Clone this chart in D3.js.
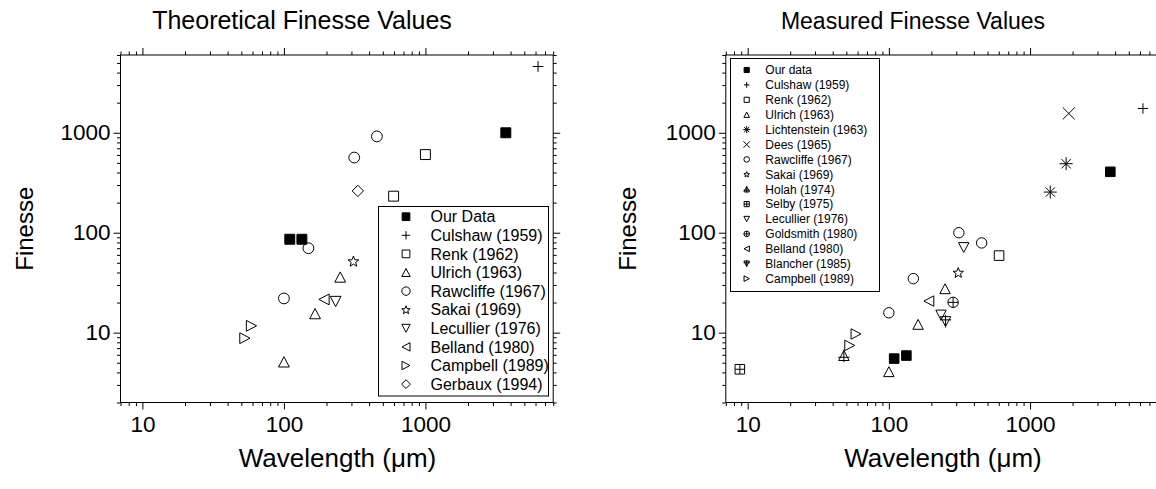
<!DOCTYPE html>
<html>
<head>
<meta charset="utf-8">
<script src="https://cdn.jsdelivr.net/npm/d3@7"></script>
<style>
  body { margin: 0; background: #fff; }
  svg { display: block; }
  text { font-family: Arial, "Liberation Sans", Helvetica, sans-serif; fill: #000; }
</style>
</head>
<body>
<svg id="chart" width="1156" height="489"></svg>
<script>
// ---- Theoretical finesse values: [wavelength (µm), finesse] ----
const theoOurData   = [[110, 86], [134, 86], [3700, 1000]];
const theoCulshaw   = [[6250, 4600]];
const theoRenk      = [[1000, 605], [596, 232]];
const theoUlrich    = [[250, 36], [166, 15.5], [100, 5.1]];
const theoRawcliffe = [[454, 920], [314, 565], [149, 70], [100, 22]];
const theoSakai     = [[310, 52]];
const theoLecullier = [[232, 20.5]];
const theoBelland   = [[192, 21.5]];
const theoCampbell  = [[59, 11.7], [53, 8.8]];
const theoGerbaux   = [[333, 262]];

// ---- Measured finesse values: [wavelength (µm), finesse] ----
const measOurData      = [[109, 5.5], [133, 5.9], [3700, 407]];
const measCulshaw      = [[6300, 1750]];
const measRenk         = [[603, 59]];
const measUlrich       = [[250, 27.5], [161, 12.1], [100, 4.07]];
const measLichtenstein = [[1800, 490], [1390, 255]];
const measDees         = [[1880, 1560]];
const measRawcliffe    = [[313, 100], [454, 79], [149, 34.7], [100, 15.8]];
const measSakai        = [[310, 40]];
const measHolah        = [[48, 5.9]];
const measSelby        = [[8.8, 4.3]];
const measLecullier    = [[339, 71], [234, 15]];
const measGoldsmith    = [[285, 20.1]];
const measBelland      = [[192, 20.7]];
const measBlancher     = [[252, 12.9]];
const measCampbell     = [[58.5, 9.7], [52.8, 7.45]];

// ---- Axis ticks ----
const xDomain = [7, 8000];
const yDomain = [2, 6000];
const majorTicks = [10, 100, 1000];
const xMinorTicks = [7, 8, 9, 20, 30, 40, 50, 60, 70, 80, 90,
  200, 300, 400, 500, 600, 700, 800, 900, 2000, 3000, 4000, 5000, 6000, 7000, 8000];
const yMinorTicks = [2, 3, 4, 5, 6, 7, 8, 9, 20, 30, 40, 50, 60, 70, 80, 90,
  200, 300, 400, 500, 600, 700, 800, 900, 2000, 3000, 4000, 5000, 6000];

// ---- Series (legend order) ----
const theoSeries = [
  { name: "Our Data", sym: "squareFilled", data: theoOurData },
  { name: "Culshaw (1959)", sym: "plus", data: theoCulshaw },
  { name: "Renk (1962)", sym: "square", data: theoRenk },
  { name: "Ulrich (1963)", sym: "triUp", data: theoUlrich },
  { name: "Rawcliffe (1967)", sym: "circle", data: theoRawcliffe },
  { name: "Sakai (1969)", sym: "star", data: theoSakai },
  { name: "Lecullier (1976)", sym: "triDown", data: theoLecullier },
  { name: "Belland (1980)", sym: "triLeft", data: theoBelland },
  { name: "Campbell (1989)", sym: "triRight", data: theoCampbell },
  { name: "Gerbaux (1994)", sym: "diamond", data: theoGerbaux }
];
const measSeries = [
  { name: "Our data", sym: "squareFilled", data: measOurData },
  { name: "Culshaw (1959)", sym: "plus", data: measCulshaw },
  { name: "Renk (1962)", sym: "square", data: measRenk },
  { name: "Ulrich (1963)", sym: "triUp", data: measUlrich },
  { name: "Lichtenstein (1963)", sym: "asterisk", data: measLichtenstein },
  { name: "Dees (1965)", sym: "cross", data: measDees },
  { name: "Rawcliffe (1967)", sym: "circle", data: measRawcliffe },
  { name: "Sakai (1969)", sym: "star", data: measSakai },
  { name: "Holah (1974)", sym: "triUpPlus", data: measHolah },
  { name: "Selby (1975)", sym: "squarePlus", data: measSelby },
  { name: "Lecullier (1976)", sym: "triDown", data: measLecullier },
  { name: "Goldsmith (1980)", sym: "circlePlus", data: measGoldsmith },
  { name: "Belland (1980)", sym: "triLeft", data: measBelland },
  { name: "Blancher (1985)", sym: "triDownPlus", data: measBlancher },
  { name: "Campbell (1989)", sym: "triRight", data: measCampbell }
];

// ---- Marker shapes, centred on (0,0), half-size r ----
function circlePath(r) {
  return `M${r},0A${r},${r} 0 1,1 ${-r},0A${r},${r} 0 1,1 ${r},0Z`;
}
function starPath(r) {
  const pts = [];
  for (let i = 0; i < 10; i++) {
    const a = -Math.PI / 2 + i * Math.PI / 5;
    const rr = i % 2 === 0 ? r : r * 0.42;
    pts.push([rr * Math.cos(a), rr * Math.sin(a) + r * 0.1]);
  }
  return "M" + pts.map(p => p[0].toFixed(2) + "," + p[1].toFixed(2)).join("L") + "Z";
}
function symbolPath(type, r) {
  const h = r * 0.95;
  switch (type) {
    case "squareFilled":
    case "square": { const s = r * 0.92; return `M${-s},${-s}H${s}V${s}H${-s}Z`; }
    case "squarePlus": { const s = r * 0.92; return `M${-s},${-s}H${s}V${s}H${-s}ZM0,${-s}V${s}M${-s},0H${s}`; }
    case "plus": return `M${-r},0H${r}M0,${-r}V${r}`;
    case "cross": { const c = r * 1.15; return `M${-c},${-c}L${c},${c}M${-c},${c}L${c},${-c}`; }
    case "asterisk": {
      const a = r * 1.25, d = a * 0.72;
      return `M${-a},0H${a}M0,${-a}V${a}M${-d},${-d}L${d},${d}M${-d},${d}L${d},${-d}`;
    }
    case "circle": return circlePath(r);
    case "circlePlus": return circlePath(r) + `M${-r},0H${r}M0,${-r}V${r}`;
    case "star": return starPath(r * 1.05);
    case "triUp": return `M0,${-h}L${r},${h}L${-r},${h}Z`;
    case "triDown": return `M0,${h}L${r},${-h}L${-r},${-h}Z`;
    case "triLeft": return `M${-h},0L${h},${-r}L${h},${r}Z`;
    case "triRight": return `M${h},0L${-h},${-r}L${-h},${r}Z`;
    case "triUpPlus": return `M0,${-h}L${r},${h}L${-r},${h}ZM0,${-h * 1.2}V${h * 1.35}M${-r * 1.1},${h * 0.35}H${r * 1.1}`;
    case "triDownPlus": return `M0,${h}L${r},${-h}L${-r},${-h}ZM0,${h * 1.2}V${-h * 1.35}M${-r * 1.1},${-h * 0.35}H${r * 1.1}`;
    case "diamond": { const s = r * 1.05; return `M0,${-s}L${s},0L0,${s}L${-s},0Z`; }
  }
  return "";
}
function drawSymbol(g, type, r) {
  g.append("path")
    .attr("d", symbolPath(type, r))
    .attr("fill", type === "squareFilled" ? "#000" : "none")
    .attr("stroke", "#000")
    .attr("stroke-width", 1);
}

const svg = d3.select("#chart");

function drawPanel(cfg) {
  const x = d3.scaleLog().domain(xDomain).range(cfg.xRange);
  const y = d3.scaleLog().domain(yDomain).range(cfg.yRange);
  const g = svg.append("g");
  const [x0, x1] = cfg.xRange;
  const [y1, y0] = cfg.yRange;

  // minor ticks on all four sides
  const minorX = (axis) => axis(x).tickValues(xMinorTicks).tickSize(3.5).tickFormat("");
  const minorY = (axis) => axis(y).tickValues(yMinorTicks).tickSize(3.5).tickFormat("");
  g.append("g").attr("transform", `translate(0,${y1})`).call(minorX(d3.axisBottom));
  g.append("g").attr("transform", `translate(0,${y0})`).call(minorX(d3.axisTop));
  g.append("g").attr("transform", `translate(${x0},0)`).call(minorY(d3.axisLeft));
  g.append("g").attr("transform", `translate(${x1},0)`).call(minorY(d3.axisRight));

  // major ticks with labels on bottom and left, plain on top and right
  g.append("g").attr("transform", `translate(0,${y1})`)
    .call(d3.axisBottom(x).tickValues(majorTicks).tickSize(7).tickPadding(6.5).tickFormat(d3.format("d")));
  g.append("g").attr("transform", `translate(0,${y0})`)
    .call(d3.axisTop(x).tickValues(majorTicks).tickSize(7).tickFormat(""));
  g.append("g").attr("transform", `translate(${x0},0)`)
    .call(d3.axisLeft(y).tickValues(majorTicks).tickSize(7).tickPadding(3).tickFormat(d3.format("d")));
  g.append("g").attr("transform", `translate(${x1},0)`)
    .call(d3.axisRight(y).tickValues(majorTicks).tickSize(7).tickFormat(""));

  g.selectAll(".domain").remove();
  g.selectAll(".tick line").attr("stroke", "#000").attr("stroke-width", 1);
  g.selectAll(".tick text").attr("font-size", 22.5).attr("font-family", "Arial, 'Liberation Sans', sans-serif").attr("fill", "#000");

  // frame
  g.append("rect")
    .attr("x", x0).attr("y", y0)
    .attr("width", x1 - x0).attr("height", y1 - y0)
    .attr("fill", "none").attr("stroke", "#000").attr("stroke-width", 1);

  // titles
  g.append("text").attr("x", cfg.titleX).attr("y", 28.5)
    .attr("text-anchor", "middle").attr("font-size", cfg.titleSize).text(cfg.title);
  g.append("text").attr("x", cfg.xTitleX).attr("y", 467)
    .attr("text-anchor", "middle").attr("font-size", 26).text("Wavelength (\u03bcm)");
  g.append("text")
    .attr("transform", `translate(${cfg.yTitleX},${(y0 + y1) / 2}) rotate(-90)`)
    .attr("text-anchor", "middle").attr("font-size", 24).text("Finesse");

  // data markers
  const marks = g.append("g");
  cfg.series.forEach(s => {
    s.data.forEach(d => {
      const m = marks.append("g").attr("transform", `translate(${x(d[0])},${y(d[1])})`);
      drawSymbol(m, s.sym, cfg.markR);
    });
  });

  // legend
  const L = cfg.legend;
  const lg = g.append("g");
  lg.append("rect").attr("x", L.x).attr("y", L.y).attr("width", L.w).attr("height", L.h)
    .attr("fill", "#fff").attr("stroke", "#000").attr("stroke-width", 1);
  cfg.series.forEach((s, i) => {
    const cy = L.row0 + i * L.step;
    const m = lg.append("g").attr("transform", `translate(${L.symX},${cy})`);
    drawSymbol(m, s.sym, L.symR);
    lg.append("text").attr("x", L.textX).attr("y", cy).attr("dy", "0.36em")
      .attr("font-size", L.font).text(s.name);
  });
}

drawPanel({
  series: theoSeries,
  xRange: [120.5, 553.2],
  yRange: [402.5, 55],
  title: "Theoretical Finesse Values",
  titleSize: 25,
  titleX: 302,
  xTitleX: 337.5,
  yTitleX: 33,
  markR: 5.4,
  legend: { x: 378.5, y: 206.5, w: 170, h: 189.5, row0: 216.7, step: 18.6,
            symX: 406, symR: 4.2, textX: 430.5, font: 16 }
});

drawPanel({
  series: measSeries,
  xRange: [725.8, 1157.6],
  yRange: [402.5, 55],
  title: "Measured Finesse Values",
  titleSize: 23,
  titleX: 913,
  xTitleX: 943,
  yTitleX: 636,
  markR: 5.2,
  legend: { x: 730.5, y: 58.5, w: 149, h: 233, row0: 70, step: 14.9,
            symX: 746.7, symR: 2.8, textX: 765.3, font: 12 }
});
</script>
</body>
</html>
